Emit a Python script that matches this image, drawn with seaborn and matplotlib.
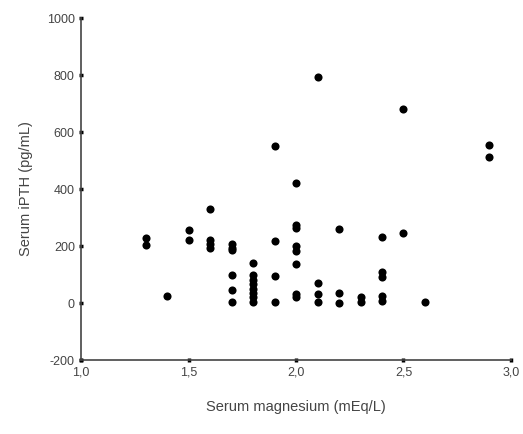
import numpy as np
import pandas as pd
import seaborn as sns
from matplotlib import pyplot as plt

# serum magnesium (mEq/L) and serum iPTH (pg/mL)
mg = [1.3, 1.3, 1.4, 1.5, 1.5,
      1.6, 1.6, 1.6, 1.6,
      1.7, 1.7, 1.7, 1.7, 1.7, 1.7,
      1.8, 1.8, 1.8, 1.8, 1.8, 1.8, 1.8, 1.8,
      1.9, 1.9, 1.9, 1.9,
      2.0, 2.0, 2.0, 2.0, 2.0, 2.0, 2.0, 2.0,
      2.1, 2.1, 2.1, 2.1,
      2.2, 2.2, 2.2,
      2.3, 2.3,
      2.4, 2.4, 2.4, 2.4, 2.4,
      2.5, 2.5, 2.6, 2.9, 2.9]
ipth = [228, 203, 25, 255, 220,
        330, 222, 207, 193,
        208, 192, 100, 46, 5, 185,
        142, 98, 82, 66, 50, 35, 20, 5,
        551, 218, 95, 4,
        421, 272, 262, 200, 183, 137, 32, 21,
        793, 70, 32, 4,
        260, 35, 0,
        21, 4,
        232, 110, 92, 25, 6,
        680, 245, 4, 554, 512]
yticks = [-200, 0, 200, 400, 600, 800, 1000]
xticks = [1.0, 1.5, 2.0, 2.5, 3.0]
xlabels = ['1,0', '1,5', '2,0', '2,5', '3,0']

df = pd.DataFrame({'mg': mg, 'ipth': ipth})

sns.set_style('ticks')
plt.rcParams['font.family'] = ['Liberation Sans', 'DejaVu Sans']

fig = plt.figure(figsize=(5.23, 4.34), dpi=100)
ax = fig.add_axes([0.155, 0.1705, 0.822, 0.788])
sns.scatterplot(x='mg', y='ipth', data=df, color='black', s=34,
                edgecolor='black', linewidth=0, ax=ax)

ax.set_xlim(1.0, 3.0)
ax.set_ylim(-200, 1000)
ax.set_xticks(xticks)
ax.set_xticklabels(xlabels)
ax.set_yticks(yticks)
ax.set_yticklabels([str(v) for v in yticks])
sns.despine(ax=ax)
for s in ['left', 'bottom']:
    ax.spines[s].set_color('#444444')
    ax.spines[s].set_linewidth(1.2)
ax.tick_params(direction='inout', length=3, width=2.5, color='black',
               labelsize=9, labelcolor='#444444', pad=3)
ax.set_xlabel('Serum magnesium (mEq/L)', fontsize=10.5, color='#444444', labelpad=16)
ax.set_ylabel('Serum iPTH (pg/mL)', fontsize=10.5, color='#444444', labelpad=10)

fig.savefig('out.png', dpi=100)
